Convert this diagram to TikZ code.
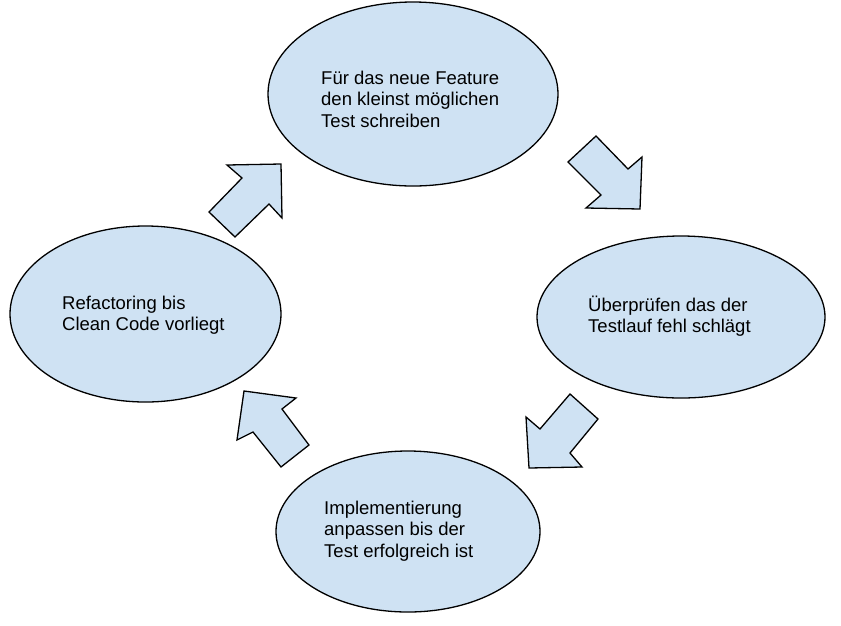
\documentclass[tikz,border=0pt]{standalone}
\usepackage{fontspec}
\setmainfont{Liberation Sans}
\usetikzlibrary{shapes.geometric}
\definecolor{fillblue}{HTML}{CFE2F3}
\tikzset{
  stage/.style={ellipse, draw=black, line width=1.3pt, fill=fillblue, inner sep=0pt},
  blockarrow/.style={draw=black, line width=1.3pt, fill=fillblue, line join=miter},
  label/.style={anchor=base west, inner sep=0pt, font=\fontsize{18.5}{21.7}\selectfont}
}
\newcommand{\lines}[1]{\begin{tabular}[t]{@{}l@{}}#1\end{tabular}}
\begin{document}
\begin{tikzpicture}[x=1pt,y=-1pt]
\useasboundingbox (0,0) rectangle (841,625);
% ellipses
\node[stage, minimum width=290pt, minimum height=184pt] (top) at (413,94) {};
\node[stage, minimum width=288pt, minimum height=162pt] (right) at (681,317) {};
\node[stage, minimum width=264pt, minimum height=161pt] (bottom) at (408,531.5) {};
\node[stage, minimum width=271pt, minimum height=176pt] (left) at (145.5,314) {};
% texts
\node[label] (ttop) at (321,84) {\lines{Für das neue Feature\\den kleinst möglichen\\Test schreiben}};
\node[label] (tright) at (588,311) {\lines{Überprüfen das der\\Testlauf fehl schlägt}};
\node[label] (tbottom) at (324,514) {\lines{Implementierung\\anpassen bis der\\Test erfolgreich ist}};
\node[label] (tleft) at (62,309) {\lines{Refactoring bis\\Clean Code vorliegt}};
% block arrows
\draw[blockarrow] (568,162) -- (596,136) -- (628,169) -- (642,157) -- (640,209) -- (586,208) -- (601,195) -- cycle;
\draw[blockarrow] (570,394) -- (598,419) -- (570,453) -- (582,467) -- (529,468) -- (526,417) -- (540,429) -- cycle;
\draw[blockarrow] (244,391) -- (296,398) -- (282,409) -- (309,445) -- (281,467) -- (253,432) -- (237,440) -- cycle;
\draw[blockarrow] (227,165) -- (281,164) -- (282,218) -- (269,204) -- (235,237) -- (209,212) -- (242,178) -- cycle;
\end{tikzpicture}
\end{document}
